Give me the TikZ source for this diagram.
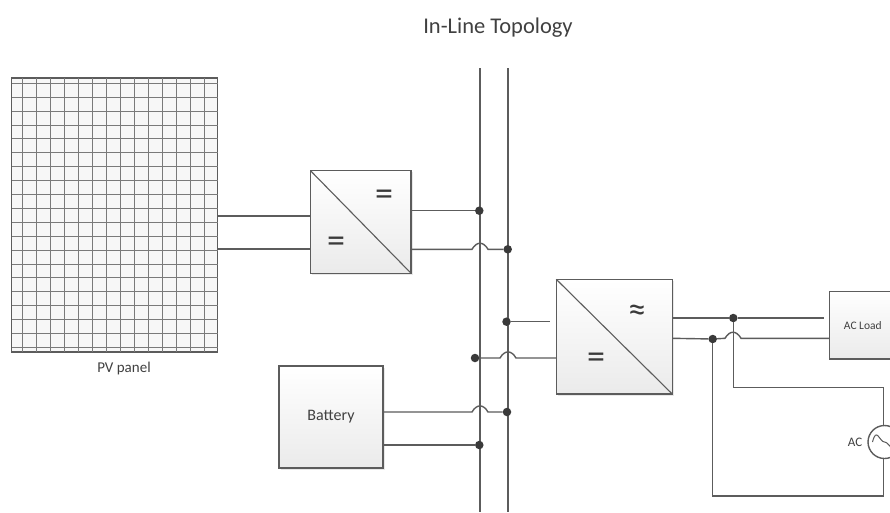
\documentclass[tikz,border=0pt]{standalone}
\usepackage{fontspec}
\setmainfont{Carlito}
\usetikzlibrary{shadows}
\definecolor{wirecol}{HTML}{5C5C5C}
\definecolor{dotcol}{HTML}{3A3A3A}
\definecolor{gridcol}{HTML}{7A7A7A}
\definecolor{txtcol}{HTML}{404040}
\tikzset{
  wire/.style={draw=wirecol, line width=1.4pt},
  hop/.style={out=60, in=120, looseness=1.5},
  dot/.style={circle, fill=dotcol, minimum size=8.5pt, inner sep=0pt},
  unit/.style={draw=wirecol, line width=1.4pt, outer sep=0pt, top color=white, bottom color=black!8,
    drop shadow={shadow xshift=1.5pt, shadow yshift=-1.5pt, opacity=.18}},
  symb/.style={text=dotcol, font=\fontsize{36}{36}\selectfont, inner sep=0pt},
  lbl/.style={text=txtcol, inner sep=0pt}
}
\begin{document}
\begin{tikzpicture}[x=1pt, y=-1pt]
  \clip (0,0) rectangle (890,512);
  \fill[white] (0,0) rectangle (890,512);
  \node[lbl, font=\fontsize{22.5}{24}\selectfont] (title) at (498,28) {In-Line Topology};

  \node[draw=wirecol, line width=1.4pt, fill=black!3, outer sep=0pt, minimum width=206pt, minimum height=274pt, inner sep=0pt] (panel) at (114.5,215) {};
  \foreach \x in {22,36,50,64,78.5,92.5,106.5,120,134,148,162.5,176.5,190.5,204}
    \draw[gridcol, line width=1pt] (\x,78) -- (\x,352);
  \foreach \y in {83.3,97.2,111.1,125,138.9,152.8,166.7,180.6,194.5,208.4,222.3,236.2,250.1,264,277.9,291.8,305.7,319.6,333.5,347.4}
    \draw[gridcol, line width=1pt] (11.5,\y) -- (217.5,\y);
  \node[lbl, font=\fontsize{15}{16}\selectfont] (pvlabel) at (124,368) {PV panel};

  \node[unit, minimum width=100.5pt, minimum height=102.5pt] (dcdc) at (360.8,222) {};
  \draw[wire, line width=1.1pt] (dcdc.north west) -- (dcdc.south east);
  \node[symb] (dcdcout) at (384,198) {=};
  \node[symb] (dcdcin) at (336,245) {=};

  \node[unit, minimum width=116pt, minimum height=114.7pt] (inv) at (614.3,336.7) {};
  \draw[wire, line width=1.1pt] (inv.north west) -- (inv.south east);
  \node[symb] (invout) at (637,313) {≈};
  \node[symb] (invin) at (596,361) {=};

  \node[unit, minimum width=104pt, minimum height=102pt, font=\fontsize{16}{17}\selectfont, text=txtcol] (batt) at (331,417) {Battery};
  \node[unit, minimum width=67pt, minimum height=67.5pt, font=\fontsize{11.5}{12}\selectfont, text=txtcol] (load) at (862.8,325.2) {AC Load};

  \node[draw=wirecol, line width=1.4pt, fill=white, circle, outer sep=0pt, minimum size=33pt, inner sep=0pt] (acsrc) at (884.5,442) {};
  \node[lbl, font=\fontsize{13}{14}\selectfont] (aclabel) at (855,442) {AC};
  \draw[wire, line width=1pt] ([xshift=-12pt]acsrc.center) .. controls +(4,-16) and +(-5,0) .. (acsrc.center) .. controls +(5,0) and +(-4,14) .. ([xshift=12pt]acsrc.center);

  \coordinate (busatop) at (480,68);
  \coordinate (busabot) at (480,512);
  \coordinate (busbtop) at (508,68);
  \coordinate (busbbot) at (508,512);
  \draw[wire] (busatop) -- (busabot);
  \draw[wire] (busbtop) -- (busbbot);

  \node[dot] (d1) at (479.3,210.7) {};
  \node[dot] (d2) at (507.7,249.3) {};
  \node[dot] (d3) at (506.5,321.7) {};
  \node[dot] (d4) at (475,358) {};
  \node[dot] (d5) at (507,412) {};
  \node[dot] (d6) at (479.3,445) {};
  \node[dot] (d7) at (733.3,318) {};
  \node[dot] (d8) at (712.7,339) {};

  \coordinate (hopa) at (480,249.3);
  \coordinate (hopb) at (508,358);
  \coordinate (hopc) at (480,412);
  \coordinate (hopd) at (733,338.3);
  \coordinate (invstub) at (550,321.7);
  \coordinate (loadstub) at (824,318);
  \coordinate (corna) at (883.3,387.7);
  \coordinate (cornb) at (883.3,496);

  \draw[wire] (panel.east |- 0,216) -- (dcdc.west |- 0,216);
  \draw[wire] (panel.east |- 0,249) -- (dcdc.west |- 0,249);
  \draw[wire] (dcdc.east |- d1) -- (d1);
  \draw[wire] (dcdc.east |- hopa) -- ([xshift=-8pt]hopa) to[hop] ([xshift=8pt]hopa) -- (d2);
  \draw[wire] (d3) -- (invstub);
  \draw[wire] (d4) -- ([xshift=-8pt]hopb) to[hop] ([xshift=8pt]hopb) -- (inv.west |- hopb);
  \draw[wire] (batt.east |- hopc) -- ([xshift=-8pt]hopc) to[hop] ([xshift=8pt]hopc) -- (d5);
  \draw[wire] (batt.east |- d6) -- (d6);
  \draw[wire] (inv.east |- d7) -- (d7) -- (loadstub);
  \draw[wire] (inv.east |- hopd) -- (d8) -- ([xshift=-8pt]hopd) to[hop] ([xshift=8pt]hopd) -- (load.west |- hopd);
  \draw[wire] (d7) -- (d7 |- corna) -- (corna) -- (acsrc.north -| corna);
  \draw[wire] (d8) -- (d8 |- cornb) -- (cornb) -- (acsrc.south -| cornb);
\end{tikzpicture}
\end{document}
